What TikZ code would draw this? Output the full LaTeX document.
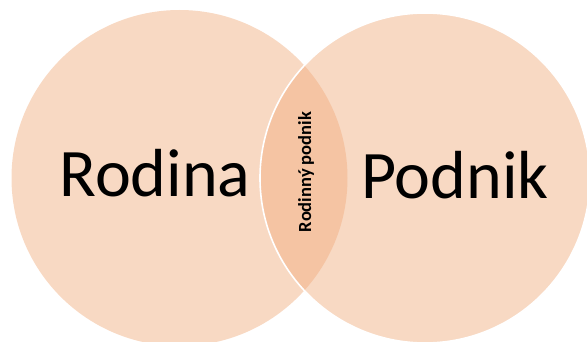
\documentclass[tikz,border=0pt]{standalone}
\usepackage{fontspec}
\setmainfont{Carlito}
\definecolor{circfill}{HTML}{F8D9C3}
\definecolor{lensfill}{HTML}{F5C4A3}
\begin{document}
\begin{tikzpicture}[x=1pt,y=-1pt,
  setcirc/.style={fill=circfill},
  bigtext/.style={font=\fontsize{68}{82}\selectfont, inner sep=0pt, anchor=base},
  lenstext/.style={font=\bfseries\fontsize{18.5}{22}\selectfont, inner sep=0pt, rotate=90, anchor=base}]
\useasboundingbox (0,0) rectangle (587,342);
\begin{scope}
\clip (0,0) rectangle (587,342);
\path[setcirc] (179.5,178) circle[radius=168];
\path[setcirc] (425,178) circle[radius=165];
\begin{scope}
\clip (179.5,178) circle[radius=168];
\path[fill=lensfill] (425,178) circle[radius=165];
\end{scope}
\draw[white, line width=1.6pt] (425,178) circle[radius=165];
\end{scope}
\node[bigtext] (rodina) at (155,197) {Rodina};
\node[bigtext] (podnik) at (455,199) {Podnik};
\node[lenstext] (rp) at (311,172) {Rodinný podnik};
\end{tikzpicture}
\end{document}
